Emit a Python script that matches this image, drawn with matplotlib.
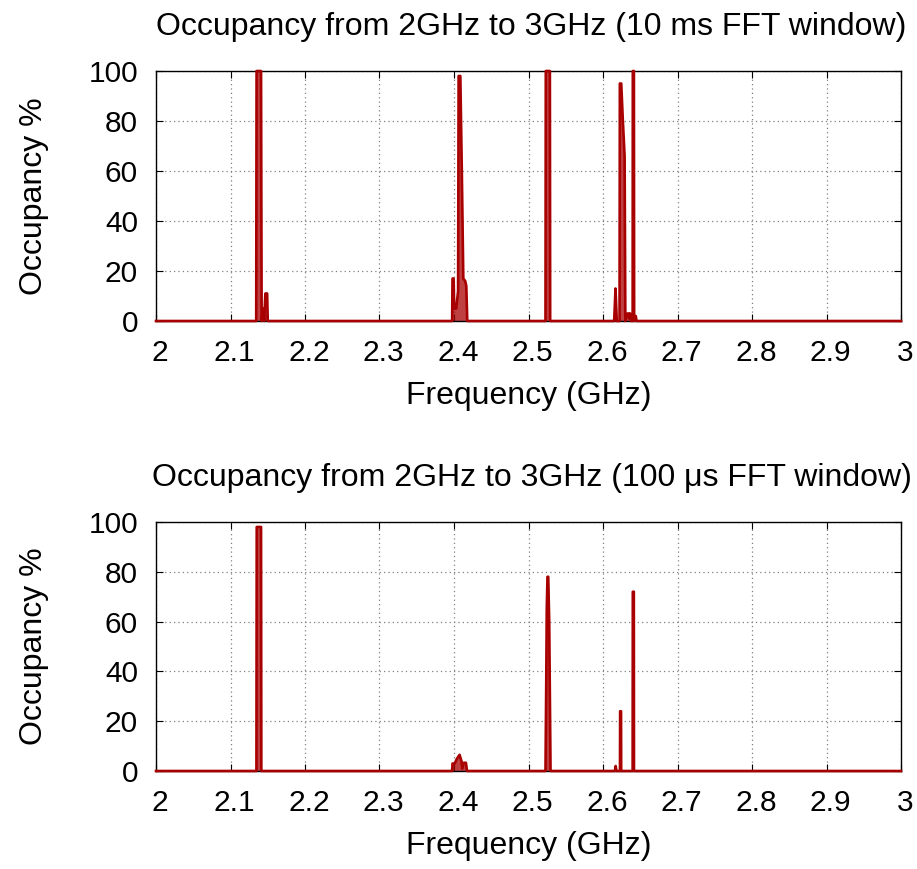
import matplotlib
matplotlib.use("Agg")
import matplotlib.pyplot as plt
from matplotlib.transforms import ScaledTranslation

plt.rcParams['font.family'] = ['Liberation Sans', 'DejaVu Sans']

titles = ["Occupancy from 2GHz to 3GHz (10 ms FFT window)",
          "Occupancy from 2GHz to 3GHz (100 \u03bcs FFT window)"]
xlabel = "Frequency (GHz)"
ylabel = "Occupancy %"
xticks = [2, 2.1, 2.2, 2.3, 2.4, 2.5, 2.6, 2.7, 2.8, 2.9, 3]
xtick_labels = ["2", "2.1", "2.2", "2.3", "2.4", "2.5", "2.6", "2.7", "2.8", "2.9", "3"]
yticks = [0, 20, 40, 60, 80, 100]

# 10 ms FFT window
freq_10ms = [2.000, 2.1345, 2.1350, 2.1410, 2.1418, 2.1440, 2.1452, 2.1468, 2.1492, 2.1500,
             2.3975, 2.3980, 2.3995, 2.4003, 2.4030, 2.4055, 2.4062, 2.4085, 2.4105, 2.4125,
             2.4150, 2.4165, 2.4178,
             2.5228, 2.5232, 2.5287, 2.5291,
             2.6150, 2.6168, 2.6185, 2.6222, 2.6226, 2.6245, 2.6265, 2.6290, 2.6300, 2.6330,
             2.6345, 2.6355, 2.6365, 2.6375, 2.6398, 2.6400, 2.6415, 2.6418, 2.6440, 2.6450,
             3.000]
occ_10ms = [0, 0, 100, 100, 0, 5, 0, 11, 11, 0,
            0, 17, 17, 5, 5, 12, 98, 98, 60, 17,
            16, 14, 0,
            0, 100, 100, 0,
            0, 13, 0, 0, 95, 95, 81, 66, 0, 3,
            3, 1, 3, 0, 0, 100, 100, 0, 2, 0,
            0]

# 100 us FFT window
freq_100us = [2.000, 2.1348, 2.1352, 2.1410, 2.1414,
              2.3975, 2.3980, 2.4010, 2.4040, 2.4075, 2.4100, 2.4110, 2.4130, 2.4160, 2.4175,
              2.5228, 2.5238, 2.5245, 2.5255, 2.5265, 2.5278, 2.5290, 2.5296,
              2.6160, 2.6170, 2.6180, 2.6228, 2.6230, 2.6242, 2.6244,
              2.6398, 2.6400, 2.6414, 2.6416, 3.000]
occ_100us = [0, 0, 98, 98, 0,
             0, 3, 3, 5, 6.5, 4, 1, 3.3, 3.3, 0,
             0, 35, 65, 78, 78, 60, 20, 0,
             0, 2, 0, 0, 24, 24, 0,
             0, 72, 72, 0, 0]

line_color = '#a80000'

fig = plt.figure(figsize=(9.17, 8.69), dpi=100)
W, H = 917, 869
axes_px = [(156, 71, 901, 321), (156, 522, 901, 771)]
series = [(freq_10ms, occ_10ms), (freq_100us, occ_100us)]

for (x0, y0, x1, y1), (f, o), title in zip(axes_px, series, titles):
    ax = fig.add_axes([x0 / W, 1 - y1 / H, (x1 - x0) / W, (y1 - y0) / H])
    ax.fill_between(f, o, 0, color=line_color, alpha=0.75, linewidth=0, clip_on=False)
    ax.plot(f, o, color=line_color, linewidth=1.9, clip_on=False, zorder=3)
    ax.set_xlim(2, 3)
    ax.set_ylim(0, 100)
    ax.set_xticks(xticks)
    ax.set_xticklabels(xtick_labels)
    ax.set_yticks(yticks)
    ax.grid(True, color='#808080', linestyle=(0, (1, 2.5)), linewidth=0.9)
    ax.set_axisbelow(True)
    ax.tick_params(direction='in', length=5, width=0.8, top=True, right=True,
                   labelsize=21.5, pad=13)
    off = ScaledTranslation(4 / 100, 0, fig.dpi_scale_trans)
    for lab in ax.get_xticklabels():
        lab.set_transform(lab.get_transform() + off)
    for s in ax.spines.values():
        s.set_linewidth(1.0)
        s.set_color('black')
    ax.set_title(title, fontsize=23, pad=26, x=0.504)
    ax.set_xlabel(xlabel, fontsize=23, labelpad=10)
    ax.set_ylabel(ylabel, fontsize=23, labelpad=28)

fig.savefig("out.png", dpi=100)
